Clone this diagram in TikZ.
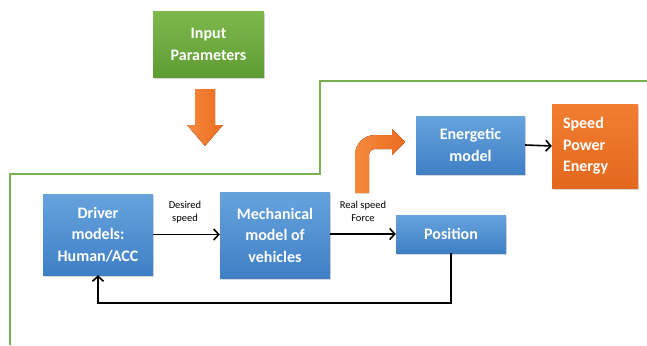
\documentclass[tikz,border=0pt]{standalone}
\usepackage{fontspec}
\setmainfont{Carlito}
\usetikzlibrary{arrows.meta,shadows,calc}
\definecolor{bluetop}{HTML}{66A3DD}
\definecolor{bluebot}{HTML}{3F7FC5}
\definecolor{greentop}{HTML}{7DB84C}
\definecolor{greenbot}{HTML}{5E9C33}
\definecolor{orangetop}{HTML}{F27E31}
\definecolor{orangebot}{HTML}{E2681E}
\definecolor{frame}{HTML}{79B04F}
\definecolor{arrowL}{HTML}{F48A3E}
\definecolor{arrowR}{HTML}{EC6B1E}
\tikzset{
  box/.style={rectangle, text=white, font=\bfseries\fontsize{16}{21.5}\selectfont,
    align=center, inner sep=2pt,
    drop shadow={shadow xshift=1pt, shadow yshift=-2pt, opacity=0.3}},
  bluebox/.style={box, top color=bluetop, bottom color=bluebot},
  greenbox/.style={box, top color=greentop, bottom color=greenbot},
  orangebox/.style={box, top color=orangetop, bottom color=orangebot, align=left},
  flow/.style={line width=1.6pt, -{Straight Barb[length=5pt,width=11pt,line width=1.6pt]}},
  tag/.style={font=\fontsize{10.5}{13}\selectfont, align=center, text=black},
  fatarrow/.style={left color=arrowL, right color=arrowR, draw=none}
}
\begin{document}
\begin{tikzpicture}[x=1pt,y=-1pt]
  \useasboundingbox (0,0) rectangle (647,345);

  % frame line separating the inputs from the simulation loop
  \draw[frame, line width=1.6pt] (10,345) -- (10,174) -- (320,174) -- (320,81) -- (647,81);

  % boxes
  \node[greenbox, minimum width=111pt, minimum height=65pt] (inp) at (208.5,44.5) {Input\\Parameters};
  \node[bluebox, minimum width=110pt, minimum height=81pt] (drv) at (98,234.5) {Driver\\models:\\Human/ACC};
  \node[bluebox, minimum width=110pt, minimum height=86pt] (mech) at (275,235) {Mechanical\\model of\\vehicles};
  \node[bluebox, minimum width=110pt, minimum height=38pt] (pos) at (451,234) {Position};
  \node[bluebox, minimum width=109pt, minimum height=58pt] (en) at (470.5,145) {Energetic\\model};
  \node[orangebox, minimum width=86pt, minimum height=84pt, text width=64pt] (sp) at (595,146) {Speed\\Power\\Energy};

  % block arrows
  \fill[fatarrow] (195,89) -- (215,89) -- (215,125) -- (223,125) -- (205,146)
    -- (187,125) -- (195,125) -- cycle;
  \fill[fatarrow] (355,193) -- (355,155) arc[start angle=180, end angle=90, radius=20pt]
    -- (392,135) -- (392,129) -- (405,142) -- (392,155) -- (392,149) -- (375,149)
    arc[start angle=90, end angle=180, radius=6pt] -- (369,193) -- cycle;

  % connectors
  \draw[flow] (drv.east) -- (drv.east -| mech.west);
  \draw[flow] (mech.east |- pos.west) -- (pos.west);
  \draw[flow] (en.east) -- (sp.west);
  \draw[flow] (pos.south) -- ++(0,50) -| (drv.south);

  % connector labels
  \node[tag] (l1) at (185,212) {Desired\\speed};
  \node[tag] (l2) at (363,211) {Real speed\\Force};
\end{tikzpicture}
\end{document}
